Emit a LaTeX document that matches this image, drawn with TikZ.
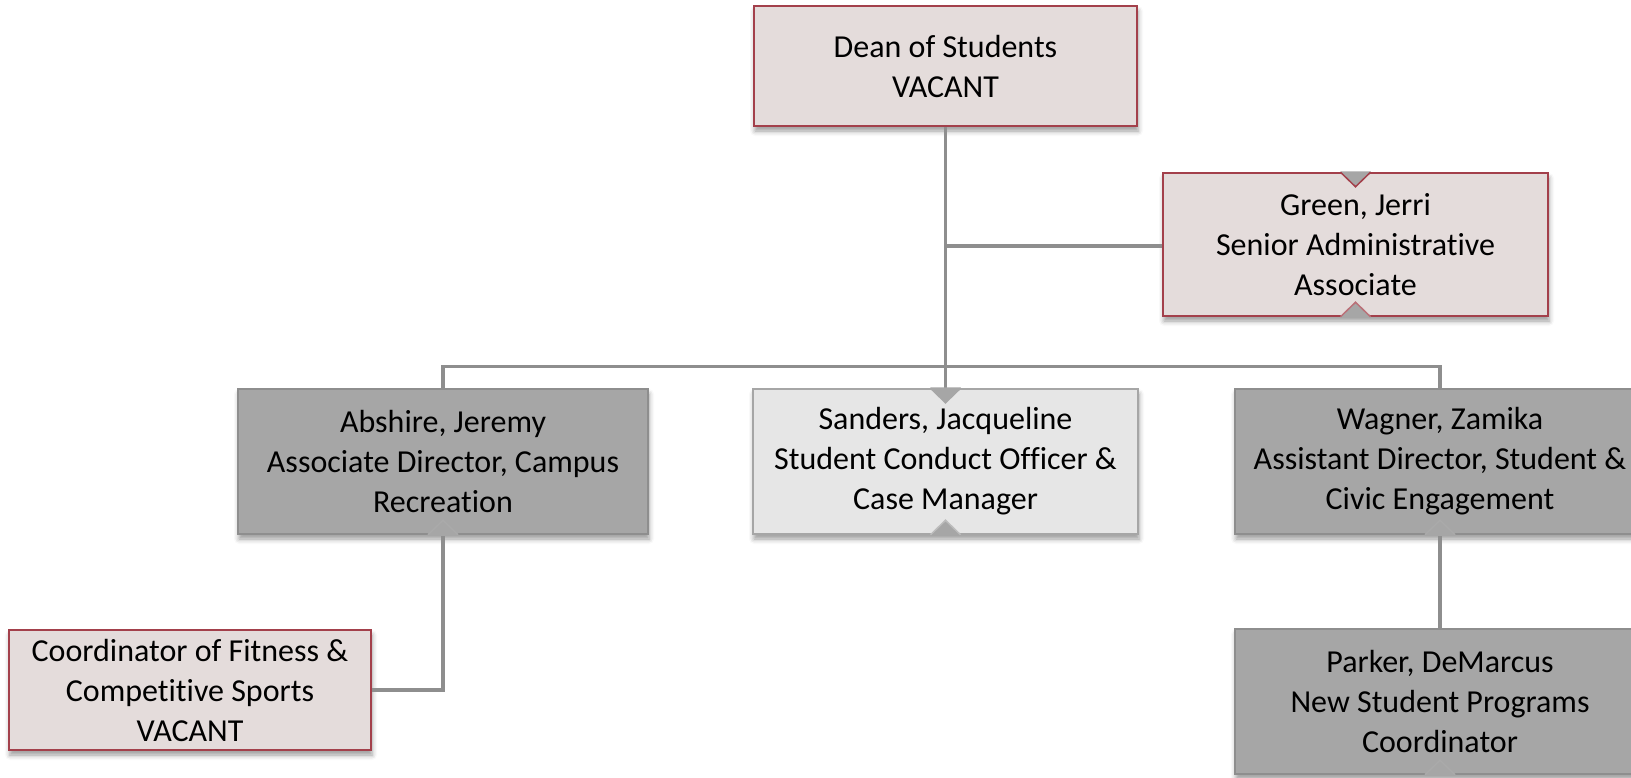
\documentclass[tikz,border=0pt]{standalone}
\usepackage{fontspec}
\setmainfont{Carlito}[Ligatures=NoCommon]
\usetikzlibrary{shadows.blur}
\definecolor{pinkfill}{HTML}{E4DCDB}
\definecolor{redline}{HTML}{A3404B}
\definecolor{darkfill}{HTML}{A6A6A6}
\definecolor{darkline}{HTML}{8E8E8E}
\definecolor{lightfill}{HTML}{E6E6E6}
\definecolor{lightline}{HTML}{A6A6A6}
\definecolor{connc}{HTML}{8E8E8E}
\definecolor{notchgray}{HTML}{A6A6A6}
\begin{document}
\begin{tikzpicture}[x=1pt,y=-1pt,
  box/.style={rectangle, inner sep=0pt, align=center,
    font=\fontsize{32}{40}\selectfont, line width=1.5pt,
    blur shadow={shadow xshift=1pt, shadow yshift=-5pt, shadow blur radius=5pt, shadow opacity=40}},
  vacbox/.style={box, fill=pinkfill, draw=redline},
  darkbox/.style={box, fill=darkfill, draw=darkline},
  lightbox/.style={box, fill=lightfill, draw=lightline},
  link/.style={draw=connc, line width=3.5pt},
]
\useasboundingbox (0,0) rectangle (1631,777);

% nodes
\node[vacbox, minimum width=383pt, minimum height=120pt] (dean) at (945.5,66) {Dean of Students\\VACANT};
\node[vacbox, minimum width=385pt, minimum height=143pt] (green) at (1355.5,244.5) {Green, Jerri\\Senior Administrative\\Associate};
\node[darkbox, minimum width=410pt, minimum height=145pt] (abshire) at (443,461.5) {Abshire, Jeremy\\Associate Director, Campus\\Recreation};
\node[lightbox, minimum width=385pt, minimum height=145pt] (sanders) at (945.5,461.5) {Sanders, Jacqueline\\Student Conduct Officer \&\\Case Manager};
\node[darkbox, minimum width=410pt, minimum height=145pt] (wagner) at (1440,461.5) {Wagner, Zamika\\Assistant Director, Student \&\\Civic Engagement};
\node[vacbox, minimum width=362pt, minimum height=120pt] (coord) at (190,690) {Coordinator of Fitness \&\\Competitive Sports\\VACANT};
\node[darkbox, minimum width=410pt, minimum height=145pt] (parker) at (1440,701.5) {Parker, DeMarcus\\New Student Programs\\Coordinator};

% connectors
\coordinate (bus) at (945.5,366.5);
\coordinate (branch) at (945.5,246);
\draw[link] (dean.south) -- (sanders.north);
\draw[link] (branch) -- (green.west |- branch);
\draw[link] (abshire.north) |- (bus) -| (wagner.north);
\draw[link] (abshire.south) |- (coord.east);
\draw[link] (wagner.south) -- (parker.north);

% notches
\foreach \n/\c in {green/redline, sanders/lightline}{
  \fill[notchgray] (\n.north) ++(-15.5,-1) -- ++(15.5,15.5) -- ++(15.5,-15.5) -- cycle;
  \draw[\c, line width=1.5pt] (\n.north) ++(-15,0) -- ++(15,14.5) -- ++(15,-14.5);
}
\foreach \n/\c in {green/redline, sanders/lightline, abshire/darkline, wagner/darkline, parker/darkline}{
  \fill[notchgray] (\n.south) ++(-15.5,1) -- ++(15.5,-15.5) -- ++(15.5,15.5) -- cycle;
  \draw[\c!75!white, line width=1.5pt] (\n.south) ++(-15,0) -- ++(15,-14.5) -- ++(15,14.5);
}
\end{tikzpicture}
\end{document}
